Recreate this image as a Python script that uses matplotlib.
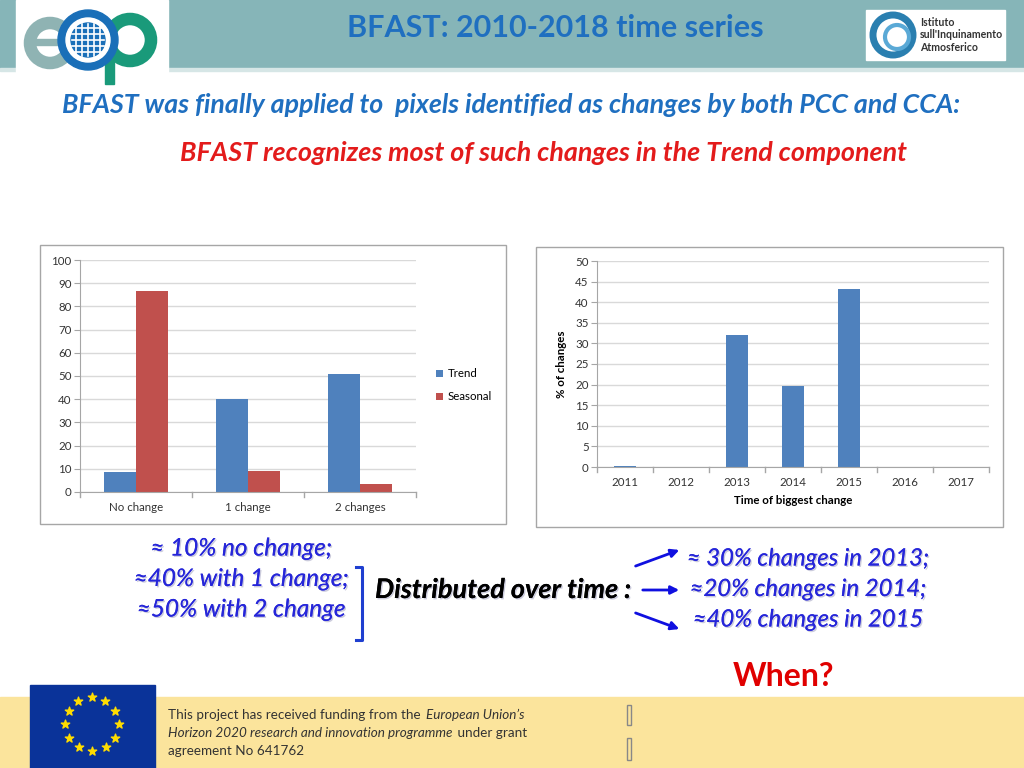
import numpy as np
import matplotlib.pyplot as plt
from matplotlib.patches import Rectangle, Circle, FancyArrowPatch
import matplotlib.patheffects as pe

plt.rcParams['font.family'] = ['Lato', 'DejaVu Sans']

# chart data
change_cats = ["No change", "1 change", "2 changes"]
trend_pct = [8.5, 40, 51]
seasonal_pct = [86.5, 9, 3.5]

years = ["2011", "2012", "2013", "2014", "2015", "2016", "2017"]
year_pct = [0.2, 0, 32, 19.7, 43.2, 0, 0]

left_notes = ["\u2248 10% no change;", "\u224840% with 1 change;", "\u224850% with 2 change"]
right_notes = ["\u2248 30% changes in 2013;", "\u224820% changes in 2014;", "\u224840% changes in 2015"]

BLUE = "#4f81bd"
RED = "#c0504d"
GRID = "#d9d9d9"

W, H = 1024, 768
fig = plt.figure(figsize=(W / 100, H / 100), dpi=100)
renderer = fig.canvas.get_renderer()

# slide background in pixel coordinates
bg = fig.add_axes([0, 0, 1, 1], zorder=0)
bg.set_xlim(0, W)
bg.set_ylim(H, 0)
bg.axis("off")

# header band
bg.add_patch(Rectangle((0, 0), W, 68, color="#86b5b8"))
bg.add_patch(Rectangle((0, 68), W, 3, color="#d6e6e6"))
bg.add_patch(Rectangle((16, 0), 152, 82, color="white"))
bg.text(555, 28, "BFAST: 2010-2018 time series", color="#1f6fc0", fontsize=22,
        fontweight="bold", ha="center", va="center")

# ECOP logo (rough)
bg.add_patch(Circle((50, 43), 20, fill=False, lw=9, ec="#8fb3b3"))
bg.add_patch(Rectangle((30, 39), 40, 6, color="#8fb3b3"))
bg.add_patch(Circle((130, 40), 21, fill=False, lw=9, ec="#1a9a7a"))
bg.add_patch(Rectangle((105, 40), 9, 44, color="#1a9a7a"))
bg.add_patch(Circle((88, 40), 30, color="#1a6fb8"))
bg.add_patch(Circle((88, 40), 22, color="white"))
bg.add_patch(Circle((88, 40), 17, color="#1a6fb8"))
for k in range(-2, 3):
    bg.plot([72, 104], [40 + k * 6, 40 + k * 6], color="white", lw=1.2)
    bg.plot([88 + k * 6, 88 + k * 6], [24, 56], color="white", lw=1.2)

# CNR logo box
bg.add_patch(Rectangle((866, 10), 139, 50, color="white"))
bg.add_patch(Circle((893, 35), 20, fill=False, lw=5, ec="#2a7fb0"))
bg.add_patch(Circle((897, 37), 12, fill=False, lw=3, ec="#5aa9d6"))
bg.text(920, 35, "Istituto\nsull'Inquinamento\nAtmosferico", fontsize=7.6,
        fontweight="bold", color="#333333", va="center", ha="left", linespacing=1.15)

# subtitles
bg.text(62, 105, "BFAST was finally applied to  pixels identified as changes by both PCC and CCA:",
        color="#1f6fc0", fontsize=19.3, style="italic", fontweight="bold", va="center", ha="left")
bg.text(180, 153, "BFAST recognizes most of such changes in the Trend component",
        color="#e31b1b", fontsize=19.4, style="italic", fontweight="bold", va="center", ha="left")

# chart frames
bg.add_patch(Rectangle((40, 245), 466, 279, fill=False, ec="#a6a6a6", lw=1))
bg.add_patch(Rectangle((536, 247), 467, 280, fill=False, ec="#a6a6a6", lw=1))


def px_axes(x0, y0, x1, y1):
    return fig.add_axes([x0 / W, (H - y1) / H, (x1 - x0) / W, (y1 - y0) / H], zorder=2)


def style(ax, ymax, step):
    ax.set_ylim(0, ymax)
    ax.set_yticks(np.arange(0, ymax + 1, step))
    ax.yaxis.grid(True, color=GRID, lw=1)
    ax.set_axisbelow(True)
    for s in ["top", "right"]:
        ax.spines[s].set_visible(False)
    ax.spines["left"].set_color("#a6a6a6")
    ax.spines["bottom"].set_color("#a6a6a6")
    ax.tick_params(axis="y", length=4, color="#a6a6a6", labelsize=8.3, labelcolor="#333333", pad=2)
    ax.tick_params(axis="x", length=0, labelsize=8.3, labelcolor="#333333", pad=7)
    ax.patch.set_alpha(0)


# left chart
ax1 = px_axes(80, 260, 416, 492)
x = np.arange(len(change_cats))
bw = 0.285
ax1.bar(x - bw / 2, trend_pct, bw, color=BLUE, label="Trend")
ax1.bar(x + bw / 2, seasonal_pct, bw, color=RED, label="Seasonal")
ax1.set_xlim(-0.5, len(change_cats) - 0.5)
ax1.set_xticks(x)
ax1.set_xticklabels(change_cats)
style(ax1, 100, 10)
for b in np.arange(-0.5, len(change_cats), 1):
    ax1.plot([b, b], [0, -2.2], color="#a6a6a6", lw=1, clip_on=False)
ax1.legend(loc="center left", bbox_to_anchor=(1.03, 0.46), frameon=False, fontsize=8.3,
           handlelength=0.6, handleheight=0.6, handletextpad=0.4, labelspacing=1.05)

# right chart
ax2 = px_axes(597, 261, 989, 467)
xy = np.arange(len(years))
ax2.bar(xy, year_pct, 0.39, color=BLUE)
ax2.set_xlim(-0.5, len(years) - 0.5)
ax2.set_xticks(xy)
ax2.set_xticklabels(years)
style(ax2, 50, 5)
for b in np.arange(-0.5, len(years), 1):
    ax2.plot([b, b], [0, -1.2], color="#a6a6a6", lw=1, clip_on=False)
ax2.set_ylabel("% of changes", fontsize=8.3, fontweight="bold", labelpad=6)
ax2.set_xlabel("Time of biggest change", fontsize=8.3, fontweight="bold", labelpad=5)

# bottom notes
shadow = [pe.withSimplePatchShadow(offset=(1, -1), shadow_rgbFace="#9999bb", alpha=0.5), pe.Normal()]
for i, t in enumerate(left_notes):
    bg.text(241, 549 + i * 30.5, t, color="#2626d9", fontsize=17.5, style="italic",
            ha="center", va="center", path_effects=shadow)
for i, t in enumerate(right_notes):
    bg.text(808, 559 + i * 30.5, t, color="#2626d9", fontsize=17.2, style="italic",
            ha="center", va="center", path_effects=shadow)

# bracket
bg.plot([356, 362, 362, 356], [567, 567, 640, 640], color="#1f3fd0", lw=2.2)
bg.text(375, 590, "Distributed over time :", color="black", fontsize=19.5, style="italic",
        fontweight="bold", ha="left", va="center", path_effects=shadow)

for (x0, y0), (x1, y1) in [((633, 567), (682, 549)), ((640, 590), (682, 590)), ((633, 612), (682, 630))]:
    bg.add_patch(FancyArrowPatch((x0, y0), (x1, y1), arrowstyle="-|>", mutation_scale=12,
                                 color="#1010e0", lw=2))

bg.text(783, 676, "When?", color="#e00000", fontsize=23, fontweight="bold", ha="center", va="center")

# footer
bg.add_patch(Rectangle((0, 697), W, 71, color="#fbe49c"))
bg.add_patch(Rectangle((30, 685), 125, 83, color="#0a3399"))
ang = np.linspace(0, 2 * np.pi, 13)[:-1]
bg.scatter(92 + 27 * np.cos(ang), 724 + 27 * np.sin(ang), marker="*", s=40, color="#ffdd00", zorder=5)

footer_lines = [
    [("This project has received funding from the ", "normal"), ("European Union\u2019s", "italic")],
    [("Horizon 2020 research and innovation programme", "italic"), (" under grant", "normal")],
    [("agreement No 641762", "normal")],
]
inv = bg.transData.inverted()
for i, parts in enumerate(footer_lines):
    xpos = 168
    for txt, st in parts:
        t = bg.text(xpos, 715 + i * 18, txt, fontsize=9.7, color="#333333", style=st,
                    ha="left", va="center")
        ext = t.get_window_extent(renderer)
        xpos = inv.transform((ext.x1, ext.y0))[0] + 2
bg.add_patch(Rectangle((627, 705), 4, 20, fill=False, ec="#888888", lw=1))
bg.add_patch(Rectangle((627, 738), 4, 22, fill=False, ec="#888888", lw=1))

fig.savefig("out.png", dpi=100)
